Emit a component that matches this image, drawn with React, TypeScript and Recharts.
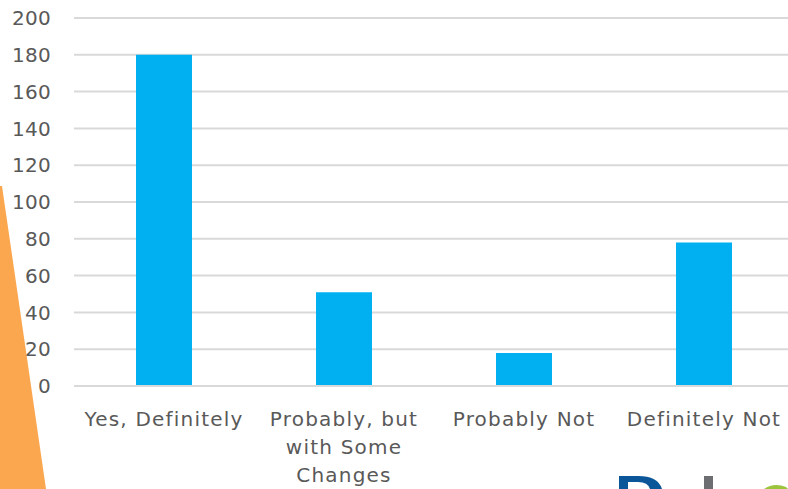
import React from "react";
import { BarChart, Bar, XAxis, YAxis, CartesianGrid } from "recharts";

const categories = [
  "Yes, Definitely",
  "Probably, but\nwith Some\nChanges",
  "Probably Not",
  "Definitely Not",
];
const responses = [180, 51, 18, 78];
const yTicks = [0, 20, 40, 60, 80, 100, 120, 140, 160, 180, 200];

const data = categories.map((c, i) => ({ name: c, value: responses[i] }));

const FONT = "'DejaVu Sans', sans-serif";
const TEXT = "#595959";

const XTick = (props: any) => {
  const { x, y, payload } = props;
  const lines = String(payload.value).split("\n");
  return (
    <g transform={`translate(${x},${y})`}>
      {lines.map((l: string, i: number) => (
        <text
          key={i}
          x={0}
          y={32 + i * 28}
          textAnchor="middle"
          fill={TEXT}
          fontFamily={FONT}
          fontSize={20}
          letterSpacing={1.2}
        >
          {l}
        </text>
      ))}
    </g>
  );
};

export default function App() {
  return (
    <div
      style={{
        position: "fixed",
        left: 0,
        top: 0,
        width: 788,
        height: 489,
        overflow: "hidden",
        background: "#fff",
      }}
    >
      <svg
        width={788}
        height={489}
        style={{ position: "absolute", left: 0, top: 0 }}
      >
        <polygon points="0,186 2,186 46,489 0,489" fill="#FBA750" />
        <path d="M619,489 L619,476 L638,476 Q658,476 662,489 Z" fill="#0A5699" />
        <path d="M628,489 L628,482 L638,482 Q648,482 650,489 Z" fill="#fff" />
        <rect x={704} y={476} width={9} height={13} fill="#6D6E71" />
        <path d="M764,489 Q774,482 786,487 L788,489 Z" fill="#9BC53D" />
      </svg>
      <div style={{ position: "absolute", left: 0, top: 0 }}>
        <BarChart
          width={800}
          height={489}
          data={data}
          margin={{ top: 18, right: 6, bottom: 0, left: 0 }}
        >
          <CartesianGrid vertical={false} stroke="#D9D9D9" strokeWidth={2} />
          <XAxis
            dataKey="name"
            interval={0}
            axisLine={{ stroke: "#D9D9D9", strokeWidth: 2 }}
            tickLine={false}
            tick={<XTick />}
            height={103}
          />
          <YAxis
            width={74}
            domain={[0, 200]}
            ticks={yTicks}
            interval={0}
            axisLine={false}
            tickLine={false}
            tickSize={0}
            tickMargin={23}
            tick={{ fill: TEXT, fontFamily: FONT, fontSize: 20, letterSpacing: 0.3 }}
          />
          <Bar
            dataKey="value"
            fill="#00B0F0"
            barSize={56}
            isAnimationActive={false}
          />
        </BarChart>
      </div>
    </div>
  );
}
